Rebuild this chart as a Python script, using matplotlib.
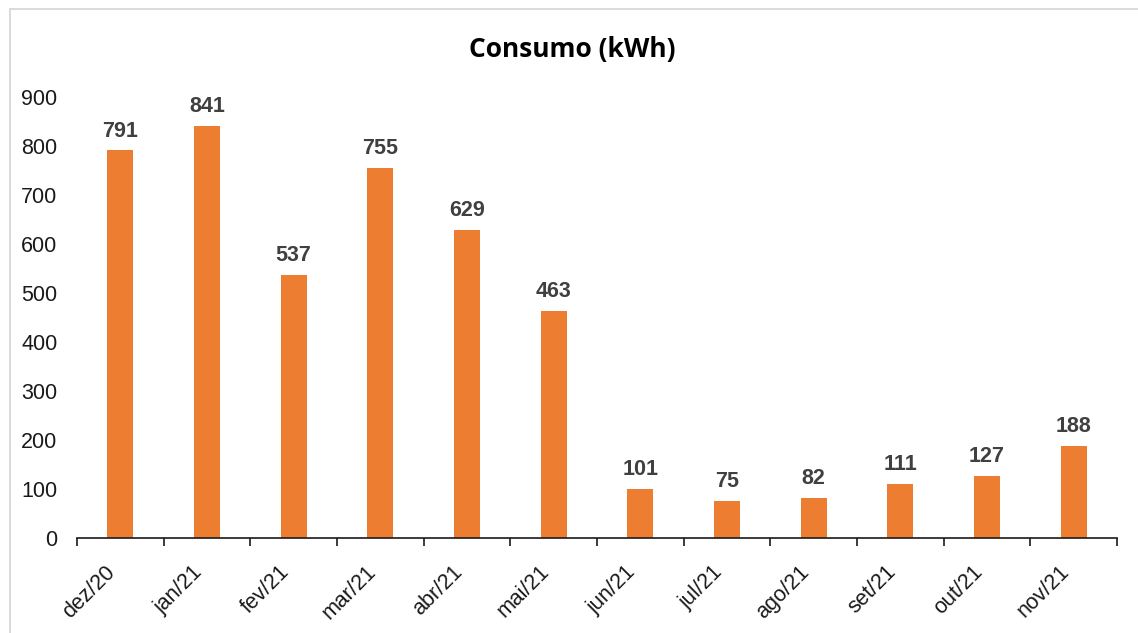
import matplotlib
matplotlib.use("Agg")
import matplotlib.pyplot as plt
import matplotlib.transforms as mtransforms
from matplotlib.patches import Rectangle
import numpy as np

months = ["dez/20", "jan/21", "fev/21", "mar/21", "abr/21", "mai/21",
          "jun/21", "jul/21", "ago/21", "set/21", "out/21", "nov/21"]
consumo = [791, 841, 537, 755, 629, 463, 101, 75, 82, 111, 127, 188]
y_ticks = [0, 100, 200, 300, 400, 500, 600, 700, 800, 900]

bar_color = "#ED7D31"
label_color = "#404040"
text_color = "#1a1a1a"
font_size = 15.5

fig = plt.figure(figsize=(11.38, 6.33), dpi=100)
fig.patch.set_facecolor("white")

# light frame around the chart area
fig.patches.append(Rectangle((10 / 1138, -0.05), 1.1, 1.05 - 9 / 633,
                             transform=fig.transFigure, fill=False,
                             edgecolor="#d4d4d4", linewidth=1.2))

ax = fig.add_axes([77 / 1138, 1 - 538 / 633, (1117 - 77) / 1138, (538 - 97) / 633])
x = np.arange(len(months))
bars = ax.bar(x, consumo, width=0.30, color=bar_color, zorder=2)

ax.set_xlim(-0.5, len(months) - 0.5)
ax.set_ylim(0, 900)
ax.set_yticks(y_ticks)
ax.set_yticklabels([str(v) for v in y_ticks], fontsize=font_size,
                   family="Liberation Sans", color=text_color)
ax.tick_params(axis="y", length=0, pad=14)

ax.set_xticks(x)
ax.set_xticklabels(months, rotation=45, ha="right", va="top",
                   rotation_mode="anchor", fontsize=font_size,
                   family="Liberation Sans", color=text_color)
ax.tick_params(axis="x", which="major", length=0, pad=17)
shift = mtransforms.ScaledTranslation(-11 / 72, 0, fig.dpi_scale_trans)
for lbl in ax.get_xticklabels():
    lbl.set_transform(lbl.get_transform() + shift)
ax.set_xticks(np.arange(-0.5, len(months)), minor=True)
ax.tick_params(axis="x", which="minor", length=6, width=1.2,
               direction="out", color=text_color)

for side in ("left", "right", "top"):
    ax.spines[side].set_visible(False)
ax.spines["bottom"].set_linewidth(1.2)
ax.spines["bottom"].set_color(text_color)

for rect, val in zip(bars, consumo):
    ax.annotate(str(val), (rect.get_x() + rect.get_width() / 2, val),
                xytext=(0, 10), textcoords="offset points",
                ha="center", va="baseline", fontsize=font_size, fontweight="bold",
                family="Liberation Sans", color=label_color)

fig.text(572 / 1138, 1 - 50 / 633, "Consumo (kWh)", ha="center", va="center",
         fontsize=19, fontweight="bold", family="Open Sans", color="black")

fig.savefig("out.png", dpi=100, facecolor="white")
